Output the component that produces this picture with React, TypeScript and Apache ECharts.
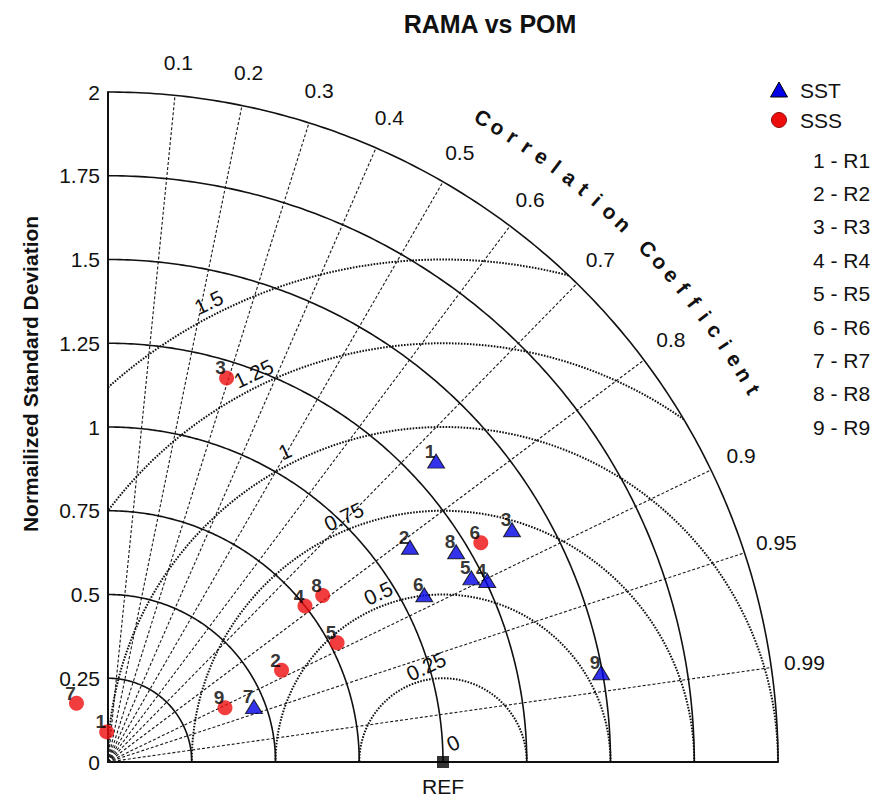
import React, { useEffect, useRef } from "react";
import * as echarts from "echarts";

// ---------- data ----------
const refStd = 1;
const maxStd = 2;
const stdTicksInterval = 0.25;
const stdArcs = [0.25, 0.5, 0.75, 1, 1.25, 1.5, 1.75, 2];
const corrTicks = [0.1, 0.2, 0.3, 0.4, 0.5, 0.6, 0.7, 0.8, 0.9, 0.95, 0.99];
const rmsArcs = [0.25, 0.5, 0.75, 1, 1.25, 1.5];
const rmsLabels = ["0.25", "0.5", "0.75", "1", "1.25", "1.5"];

const runIds = [1, 2, 3, 4, 5, 6, 7, 8, 9];
const runNames = ["R1", "R2", "R3", "R4", "R5", "R6", "R7", "R8", "R9"];

const sstStd = [1.329, 1.106, 1.391, 1.255, 1.216, 1.068, 0.466, 1.214, 1.496];
const sstCorr = [0.737, 0.815, 0.867, 0.902, 0.892, 0.884, 0.935, 0.856, 0.984];
const sssStd = [0.09, 0.586, 1.2, 0.75, 0.771, 1.291, 0.199, 0.811, 0.385];
const sssCorr = [-0.044, 0.884, 0.295, 0.784, 0.887, 0.862, -0.473, 0.79, 0.907];

// ---------- layout / style ----------
const FONT = "'Liberation Sans', Arial, Helvetica, sans-serif";
const INK = "#111";
const corrLabelR = 2.1;
const ccR = 2.224;
const ccStartDeg = 59.8;
const ccEndDeg = 30;
const rmsLabelAngleDeg = [100, 111, 112, 117, 116, 117];
const rmsLabelPad = 0.04;
const SST_COLOR = "#0000e6";
const SSS_COLOR = "#ee0d0d";

const toXY = (s: number, c: number) => [s * c, s * Math.sqrt(1 - c * c)];

const renderGrid = (_params: any, api: any) => {
  const children: any[] = [];
  const arc = (cx: number, r: number, a0: number, a1: number) => {
    const pts: number[][] = [];
    const n = 200;
    for (let k = 0; k <= n; k++) {
      const a = ((a0 + ((a1 - a0) * k) / n) * Math.PI) / 180;
      pts.push(api.coord([cx + r * Math.cos(a), r * Math.sin(a)]));
    }
    return pts;
  };
  const txt = (x: number, y: number, text: string, size: number, weight: string, rotation = 0) => ({
    type: "text",
    x,
    y,
    rotation,
    style: {
      text,
      fill: INK,
      fontSize: size,
      fontWeight: weight,
      fontFamily: FONT,
      align: "center",
      verticalAlign: "middle",
      textAlign: "center",
      textVerticalAlign: "middle",
    },
  });

  // correlation rays
  corrTicks.forEach((c) => {
    const s = Math.sqrt(1 - c * c);
    const p0 = api.coord([0, 0]);
    const p1 = api.coord([maxStd * c, maxStd * s]);
    children.push({
      type: "line",
      shape: { x1: p0[0], y1: p0[1], x2: p1[0], y2: p1[1] },
      style: { stroke: "#1a1a1a", lineWidth: 1.1, lineDash: [3, 2] },
    });
    const pl = api.coord([corrLabelR * c, corrLabelR * s]);
    children.push(txt(pl[0], pl[1], String(c), 21, "normal"));
  });

  // RMS arcs around REF
  rmsArcs.forEach((r, i) => {
    const xo = (refStd * refStd + maxStd * maxStd - r * r) / (2 * refStd);
    const t0 = xo < refStd + r ? (Math.acos((xo - refStd) / r) * 180) / Math.PI : 0;
    const t1 = r > refStd ? (Math.acos(-refStd / r) * 180) / Math.PI : 180;
    children.push({
      type: "polyline",
      shape: { points: arc(refStd, r, t0, t1) },
      style: { stroke: "#111", lineWidth: 2, lineDash: [1.6, 1.4], fill: null },
    });
    const a = (rmsLabelAngleDeg[i] * Math.PI) / 180;
    const rr = r + rmsLabelPad;
    const p = api.coord([refStd + rr * Math.cos(a), rr * Math.sin(a)]);
    children.push(txt(p[0], p[1], rmsLabels[i], 21, "normal", 0.44));
  });

  // std arcs
  stdArcs.forEach((r) => {
    children.push({
      type: "polyline",
      shape: { points: arc(0, r, 0, 90) },
      style: { stroke: INK, lineWidth: 1.6, fill: null },
    });
  });

  // REF labels
  const pr = api.coord([refStd, 0]);
  children.push(txt(pr[0] + 10, pr[1] - 19, "0", 21, "normal", 0.44));
  children.push(txt(pr[0], pr[1] + 24, "REF", 21, "normal"));

  // curved axis title
  const cc = "Correlation Coefficient";
  const chars = Array.from(cc);
  chars.forEach((ch, k) => {
    if (ch === " ") return;
    const deg = ccStartDeg - (k * (ccStartDeg - ccEndDeg)) / (chars.length - 1);
    const a = (deg * Math.PI) / 180;
    const p = api.coord([ccR * Math.cos(a), ccR * Math.sin(a)]);
    children.push(txt(p[0], p[1], ch, 21, "bold", a - Math.PI / 2));
  });

  return { type: "group", children };
};

const pointLabel = {
  show: true,
  position: "inside",
  offset: [-6, -10],
  formatter: (p: any) => String(p.value[2]),
  fontSize: 19,
  fontWeight: "bold",
  color: "#000",
  fontFamily: FONT,
  textBorderWidth: 0,
  textBorderColor: "transparent",
};

const legendText = (x: number, y: number, text: string) => ({
  type: "text",
  x,
  y,
  style: {
    text,
    fill: INK,
    fontSize: 21,
    fontFamily: FONT,
    align: "left",
    verticalAlign: "middle",
    textAlign: "left",
    textVerticalAlign: "middle",
  },
});

const option: any = {
  animation: false,
  backgroundColor: "#ffffff",
  grid: { left: 108, top: 92, width: 670, height: 670 },
  xAxis: {
    type: "value",
    min: 0,
    max: maxStd,
    axisLine: { show: true, onZero: false, lineStyle: { color: INK, width: 2 } },
    axisTick: { show: false },
    axisLabel: { show: false },
    splitLine: { show: false },
  },
  yAxis: {
    type: "value",
    min: 0,
    max: maxStd,
    interval: stdTicksInterval,
    axisLine: { show: true, onZero: false, lineStyle: { color: INK, width: 2 } },
    axisTick: { show: false },
    axisLabel: { fontSize: 21, color: INK, margin: 8, fontFamily: FONT },
    splitLine: { show: false },
  },
  graphic: [
    {
      type: "text",
      x: 490,
      y: 24,
      style: {
        text: "RAMA vs POM",
        fill: INK,
        fontSize: 25,
        fontWeight: "bold",
        fontFamily: FONT,
        align: "center",
        verticalAlign: "middle",
        textAlign: "center",
        textVerticalAlign: "middle",
      },
    },
    {
      type: "text",
      x: 30,
      y: 374,
      rotation: Math.PI / 2,
      style: {
        text: "Normailized Standard Deviation",
        fill: INK,
        fontSize: 21,
        fontWeight: "bold",
        fontFamily: FONT,
        align: "center",
        verticalAlign: "middle",
        textAlign: "center",
        textVerticalAlign: "middle",
      },
    },
    {
      type: "polygon",
      shape: { points: [[779, 82], [770.5, 97], [787.5, 97]] },
      style: { fill: SST_COLOR, stroke: "#000", lineWidth: 1 },
    },
    {
      type: "circle",
      shape: { cx: 779, cy: 120, r: 7.5 },
      style: { fill: SSS_COLOR, stroke: "#8a1010", lineWidth: 1 },
    },
    legendText(800, 90, "SST"),
    legendText(800, 120, "SSS"),
    ...runIds.map((id, i) => legendText(813, 160 + i * 33.4, `${id} - ${runNames[i]}`)),
  ],
  series: [
    { type: "custom", renderItem: renderGrid, data: [0], clip: false, silent: true, z: 1 },
    {
      type: "scatter",
      name: "REF",
      data: [[refStd, 0]],
      symbol: "rect",
      symbolSize: 12,
      itemStyle: { color: "#000" },
      clip: false,
      z: 5,
    },
    {
      type: "scatter",
      name: "SST",
      data: sstStd.map((s, i) => [...toXY(s, sstCorr[i]), runIds[i]]),
      symbol: "triangle",
      symbolSize: [17, 14],
      itemStyle: { color: SST_COLOR, borderColor: "#000", borderWidth: 1 },
      label: pointLabel,
      clip: false,
      z: 6,
    },
    {
      type: "scatter",
      name: "SSS",
      data: sssStd.map((s, i) => [...toXY(s, sssCorr[i]), runIds[i]]),
      symbol: "circle",
      symbolSize: 15,
      itemStyle: { color: SSS_COLOR },
      label: pointLabel,
      clip: false,
      z: 6,
    },
  ],
};

export default function App() {
  const ref = useRef<HTMLDivElement>(null);
  useEffect(() => {
    if (!ref.current) return;
    const chart = echarts.init(ref.current, null, { renderer: "svg" });
    chart.setOption(option);
    return () => chart.dispose();
  }, []);
  return (
    <div
      ref={ref}
      style={{ position: "absolute", left: 0, top: 0, width: 885, height: 800, background: "#fff" }}
    />
  );
}
